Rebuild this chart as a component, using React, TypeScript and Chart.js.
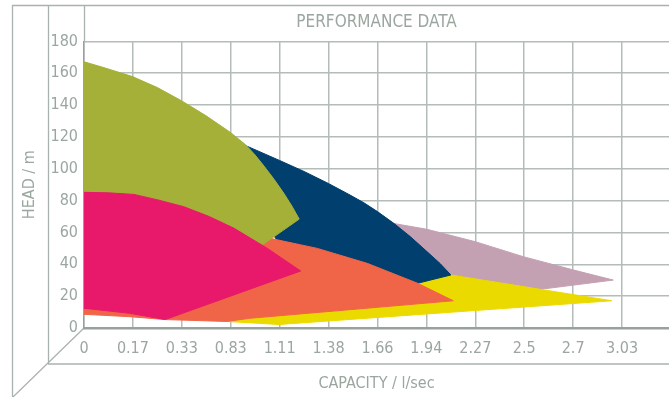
import React, { useEffect, useRef } from 'react';
import { Chart, registerables } from 'chart.js';

Chart.register(...registerables);

// Capacity axis tick labels (l/sec), evenly spaced on the axis
const capacityTicks = ['0', '0.17', '0.33', '0.83', '1.11', '1.38', '1.66', '1.94', '2.27', '2.5', '2.7', '3.03'];
const headMax = 180;
const headStep = 20;

// Each region: position on the capacity axis (tick-index units) and head (m)
const magentaQ = [0, 0.5, 1.02, 1.53, 2.04, 2.56, 3.07, 3.75, 4.43, 1.66, 0.94, 0];
const magentaH = [85.2, 84.9, 83.9, 80.3, 76.2, 70.0, 62.6, 50.0, 35.8, 5.3, 9.2, 12.4];

const oliveQ = [0, 0.41, 0.99, 1.5, 1.99, 2.49, 3.0, 3.31, 3.5, 3.68, 3.89, 4.09, 4.25, 4.40, 3.67, 2.37, 0];
const oliveH = [167.2, 163.5, 157.9, 151.0, 142.8, 133.4, 122.7, 114.9, 108.6, 101.7, 93.2, 84.4, 76.6, 68.4, 52.7, 45.8, 45.8];

const orangeQ = [3.78, 4.42, 4.77, 5.79, 6.82, 7.55, 3.39, 2.92, 1.66, 0.94, 0, 0, 3.66];
const orangeH = [56.5, 52.3, 50.0, 40.6, 28.1, 17.1, 6.1, 4.1, 5.3, 7.1, 8.6, 14.4, 52.7];

const navyQ = [2.99, 3.31, 4.0, 4.5, 5.0, 5.44, 5.73, 6.0, 6.34, 6.67, 7.0, 7.28, 7.50, 6.82, 6.12, 5.10, 4.01, 3.39];
const navyH = [119.3, 114.5, 105.2, 98.3, 90.7, 83.5, 78.5, 73.1, 65.6, 57.4, 48.3, 40.5, 33.3, 28.1, 33.3, 43.9, 52.1, 80.4];

const yellowQ = [6.82, 7.50, 10.79, 3.99, 2.92, 4.42, 6.46];
const yellowH = [28.1, 33.3, 17.1, 2.2, 4.1, 11.3, 23.9];

const mauveQ = [6.16, 6.34, 7.01, 8.00, 8.98, 10.01, 10.82, 9.33, 8.10, 7.28, 6.46];
const mauveH = [64.7, 65.6, 62.0, 54.2, 44.8, 36.4, 30.1, 24.3, 23.9, 27.0, 42.7];

// top-most first
const regions = [
  { name: 'magenta', q: magentaQ, h: magentaH, color: '#e8196a' },
  { name: 'olive', q: oliveQ, h: oliveH, color: '#a4b038' },
  { name: 'orange', q: orangeQ, h: orangeH, color: '#f06548' },
  { name: 'navy', q: navyQ, h: navyH, color: '#003f6e' },
  { name: 'yellow', q: yellowQ, h: yellowH, color: '#ebda00' },
  { name: 'mauve', q: mauveQ, h: mauveH, color: '#c4a0b3' },
];

const FONT = "'Liberation Sans Narrow', 'DejaVu Sans Condensed', 'Roboto', sans-serif";
const TEXT = '#9ba69f';
const GRID = '#b3bcb8';
const AXIS = '#97a29d';
const FRAME = '#a9b3ae';

const framePlugin = {
  id: 'frame',
  beforeDraw(chart: any) {
    const { ctx, chartArea, width, height } = chart;
    const x0 = chartArea.left;
    const y0 = chartArea.bottom;
    ctx.save();
    ctx.strokeStyle = FRAME;
    ctx.lineWidth = 1.3;
    ctx.beginPath();
    ctx.moveTo(12, 5.5);
    ctx.lineTo(width, 5.5);
    ctx.moveTo(12.5, 5);
    ctx.lineTo(12.5, height);
    ctx.moveTo(48.5, 5);
    ctx.lineTo(48.5, y0 + 36);
    ctx.moveTo(48, y0 + 36);
    ctx.lineTo(width, y0 + 36);
    ctx.moveTo(x0, y0);
    ctx.lineTo(x0 - 71, y0 + 69);
    ctx.moveTo(x0 + 0.5, 5);
    ctx.lineTo(x0 + 0.5, chartArea.top);
    ctx.stroke();
    ctx.restore();
  },
};

export default function App() {
  const ref = useRef<HTMLCanvasElement | null>(null);

  useEffect(() => {
    if (!ref.current) return;
    const chart = new Chart(ref.current, {
      type: 'line',
      data: {
        datasets: regions.map((r) => {
          const pts = r.q.map((q, i) => ({ x: q, y: r.h[i] }));
          pts.push({ x: r.q[0], y: r.h[0] });
          return {
            label: r.name,
            data: pts,
            backgroundColor: r.color,
            borderColor: r.color,
            borderWidth: 1,
            pointRadius: 0,
            tension: 0,
            fill: 'shape',
          } as any;
        }),
      },
      options: {
        responsive: false,
        animation: false,
        devicePixelRatio: 1,
        layout: { padding: 0 },
        plugins: {
          legend: { display: false },
          tooltip: { enabled: false },
          title: {
            display: true,
            text: 'PERFORMANCE DATA',
            fullSize: false,
            color: TEXT,
            font: { family: FONT, size: 17, weight: 'normal' },
            padding: { top: 12, bottom: 9 },
          },
        },
        scales: {
          x: {
            type: 'linear',
            min: 0,
            max: 11.96,
            ticks: {
              stepSize: 1,
              includeBounds: false,
              autoSkip: false,
              maxRotation: 0,
              padding: 11,
              color: TEXT,
              font: { family: FONT, size: 16 },
              callback: (v: any) => capacityTicks[Number(v)] ?? '',
            },
            grid: { color: GRID, lineWidth: 1.5, drawTicks: false },
            border: { color: AXIS, width: 2.5 },
            title: {
              display: true,
              text: 'CAPACITY / l/sec',
              color: TEXT,
              font: { family: FONT, size: 16 },
              padding: { top: 0, bottom: 4 },
            },
            afterFit: (s: any) => {
              s.height = 69;
            },
          },
          y: {
            min: 0,
            max: headMax,
            ticks: {
              stepSize: headStep,
              padding: 6,
              color: TEXT,
              font: { family: FONT, size: 16 },
            },
            grid: { color: GRID, lineWidth: 1.5, drawTicks: false },
            border: { color: AXIS, width: 1.5 },
            title: {
              display: true,
              text: 'HEAD / m',
              color: TEXT,
              font: { family: FONT, size: 16 },
              padding: { top: 20, bottom: 0 },
            },
            afterFit: (s: any) => {
              s.width = 84;
            },
          },
        },
      } as any,
      plugins: [framePlugin],
    });
    return () => chart.destroy();
  }, []);

  return (
    <div style={{ position: 'fixed', left: 0, top: 0, width: 669, height: 397, background: '#fff' }}>
      <canvas ref={ref} width={669} height={397} />
    </div>
  );
}
